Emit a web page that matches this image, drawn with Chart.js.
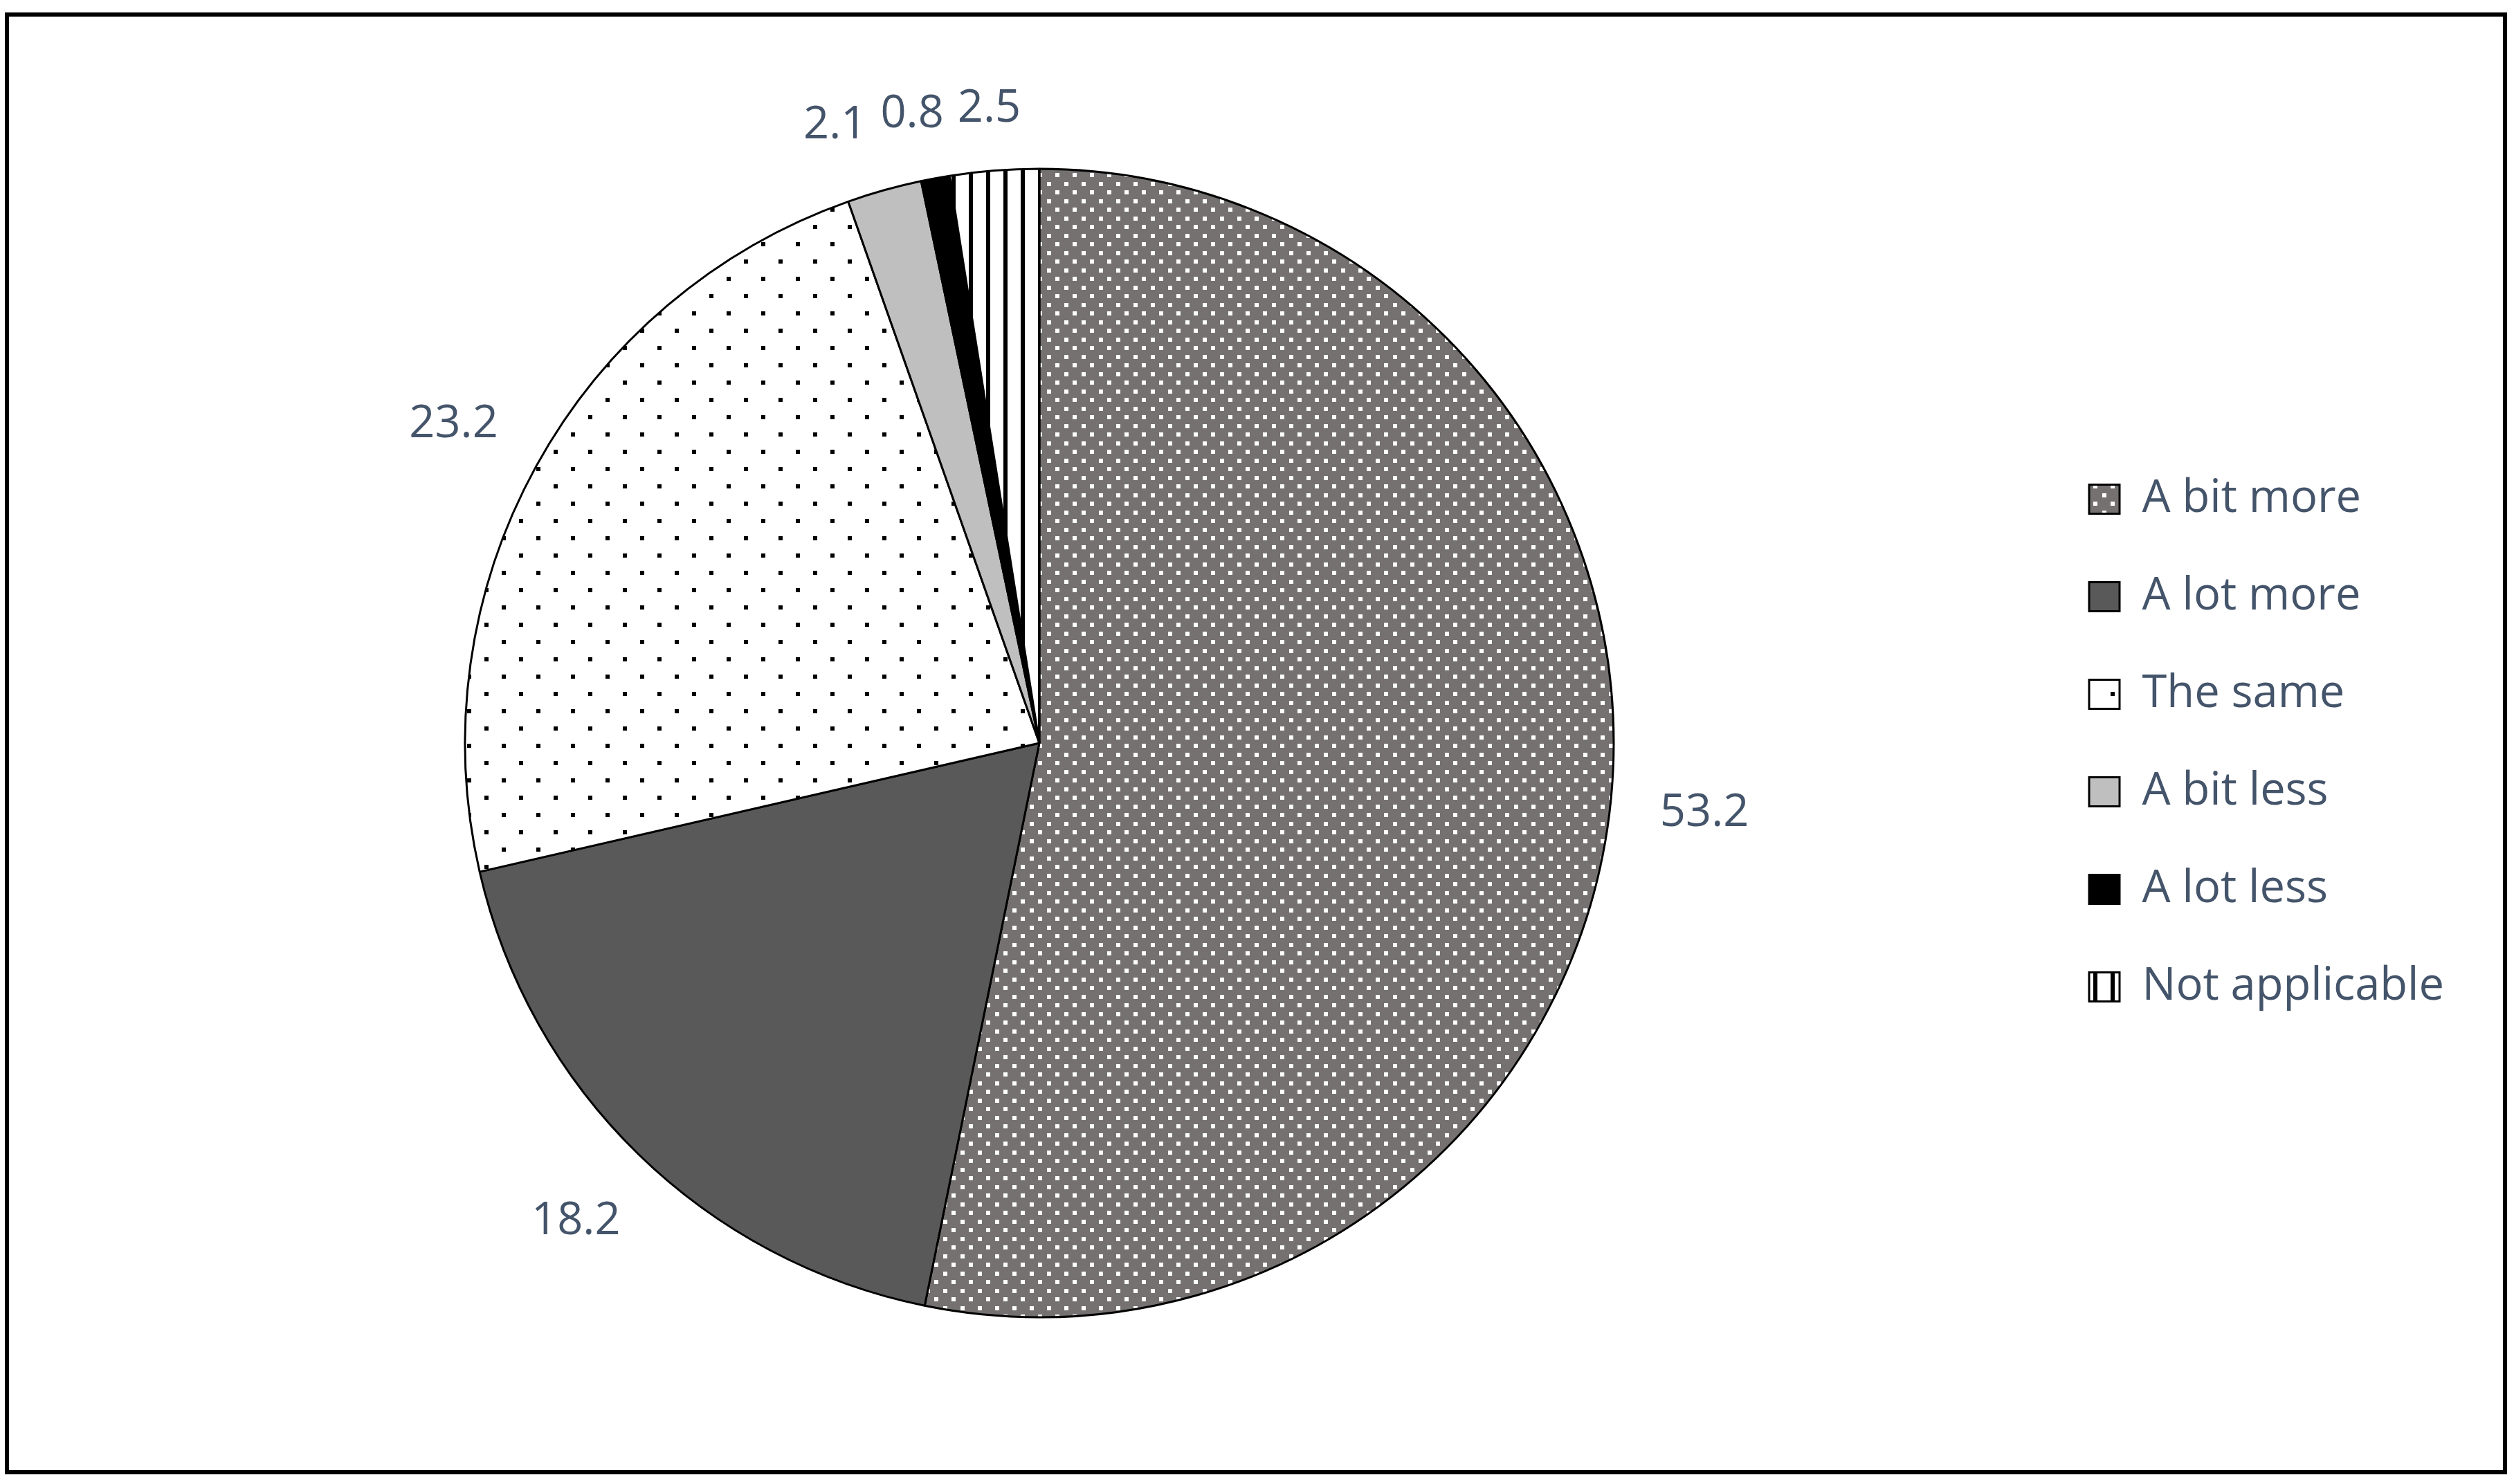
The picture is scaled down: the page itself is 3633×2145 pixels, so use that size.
<!DOCTYPE html>
<html lang="en">
<head>
<meta charset="UTF-8">
<title>Pie chart</title>
<script src="https://cdn.jsdelivr.net/npm/chart.js"></script>
<style>
  body { margin: 0; background: #fff; }
  #frame { position: absolute; left: 7px; top: 18px; width: 3604px; height: 2101px; border: 6px solid #000; }
  #pieChart { position: absolute; left: 0; top: 0; }
</style>
</head>
<body>
<div id="frame"></div>
<canvas id="pieChart" width="3633" height="2145"></canvas>
<script>
var categories = ['A bit more', 'A lot more', 'The same', 'A bit less', 'A lot less', 'Not applicable'];
var values = [53.2, 18.2, 23.2, 2.1, 0.8, 2.5];
var valueLabels = ['53.2', '18.2', '23.2', '2.1', '0.8', '2.5'];

var TEXT_COLOR = '#44546A';
var FONT = 'Open Sans';
var FONT_SIZE = 65;
var BOX_W = 44, LEGEND_PAD = 141 - FONT_SIZE;
var LEGEND_LEFT = 2943;   // chart area ends here, pie centred at x ~1502

// small tiles used as fill patterns
function dotPattern(size, bg, fg, dot) {
    var c = document.createElement('canvas');
    c.width = size; c.height = size;
    var g = c.getContext('2d');
    g.fillStyle = bg; g.fillRect(0, 0, size, size);
    g.fillStyle = fg;
    var h = Math.round(size / 2);
    g.fillRect(0, 0, dot, dot);
    g.fillRect(h, h, dot, dot);
    return g.createPattern(c, 'repeat');
}
function stripePattern(size, line) {
    var c = document.createElement('canvas');
    c.width = size; c.height = 4;
    var g = c.getContext('2d');
    g.fillStyle = '#fff'; g.fillRect(0, 0, size, 4);
    g.fillStyle = '#000'; g.fillRect(0, 0, line, 4);
    return g.createPattern(c, 'repeat');
}

var fills = [
    dotPattern(25, '#757171', '#fff', 6),
    '#595959',
    dotPattern(50, '#fff', '#000', 6),
    '#BFBFBF',
    '#000000',
    stripePattern(25, 6)
];

// legend width as chart.js will compute it, so the right padding puts it where we want
var m = document.createElement('canvas').getContext('2d');
m.font = FONT_SIZE + 'px "' + FONT + '"';
var maxText = Math.max.apply(null, categories.map(function(t) { return m.measureText(t).width; }));
var legendWidth = LEGEND_PAD + BOX_W + FONT_SIZE / 2 + maxText + 10;
var rightPad = Math.max(0, 3633 - LEGEND_LEFT - legendWidth);

// value labels outside the slices, pushed apart when they collide
var sliceLabels = {
    id: 'sliceLabels',
    afterDatasetsDraw: function(chart) {
        var ctx = chart.ctx;
        var meta = chart.getDatasetMeta(0);
        ctx.save();
        ctx.font = FONT_SIZE + 'px "' + FONT + '"';
        ctx.fillStyle = TEXT_COLOR;
        ctx.textAlign = 'center';
        ctx.textBaseline = 'alphabetic';
        var boxes = meta.data.map(function(arc, i) {
            var p = arc.getProps(['x', 'y', 'startAngle', 'endAngle', 'outerRadius'], true);
            var mid = (p.startAngle + p.endAngle) / 2;
            var dx = Math.cos(mid), dy = Math.sin(mid);
            var w = ctx.measureText(valueLabels[i]).width;
            var dist = p.outerRadius + 70 + Math.abs(dx) * w / 2 + Math.abs(dy) * 20;
            return { x: p.x + dx * dist, y: p.y + dy * dist, w: w };
        });
        for (var i = boxes.length - 2; i >= 0; i--) {
            var a = boxes[i], b = boxes[i + 1];
            if (Math.abs(a.y - b.y) < 60 && a.x < b.x && a.x + a.w / 2 > b.x - b.w / 2 - 20) {
                a.x = b.x - b.w / 2 - 20 - a.w / 2;
            }
        }
        boxes.forEach(function(b, i) {
            ctx.fillText(valueLabels[i], b.x, b.y + 23);
        });
        ctx.restore();
    }
};

var ctx = document.getElementById('pieChart').getContext('2d');
var chart = new Chart(ctx, {
    type: 'pie',
    data: {
        labels: categories,
        datasets: [{
            data: values,
            backgroundColor: fills,
            borderColor: '#000',
            borderWidth: 3
        }]
    },
    options: {
        responsive: false,
        devicePixelRatio: 1,
        animation: false,
        radius: 830,
        layout: { padding: { left: 61, right: rightPad, top: 3, bottom: 0 } },
        plugins: {
            legend: {
                position: 'right',
                labels: {
                    color: TEXT_COLOR,
                    font: { family: FONT, size: FONT_SIZE },
                    boxWidth: BOX_W,
                    boxHeight: 42,
                    padding: LEGEND_PAD
                }
            },
            tooltip: { enabled: false }
        }
    },
    plugins: [sliceLabels]
});
</script>
</body>
</html>
